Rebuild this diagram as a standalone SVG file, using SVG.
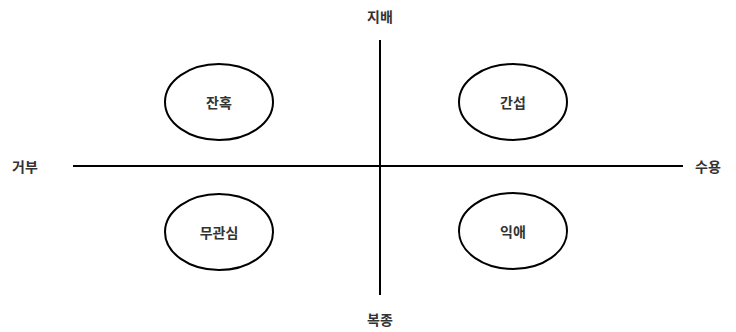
<svg xmlns="http://www.w3.org/2000/svg" width="736" height="332" viewBox="0 0 736 332">
<style>
text{font-family:"Noto Sans CJK KR","Noto Sans",sans-serif;font-size:14px;font-weight:bold;fill:#333;text-anchor:middle;dominant-baseline:central}
.axis{stroke:#000;stroke-width:2;fill:none}
ellipse{fill:#fff;stroke:#000;stroke-width:2}
</style>
<rect width="736" height="332" fill="#fff"/>
<g id="connectors">
<line class="axis" x1="380" y1="40" x2="380" y2="295"/>
<line class="axis" x1="73" y1="166" x2="683" y2="166"/>
</g>
<g id="axis-top"><text x="380" y="16">지배</text></g>
<g id="axis-bottom"><text x="380" y="319">복종</text></g>
<g id="axis-left"><text x="25" y="166">거부</text></g>
<g id="axis-right"><text x="708" y="166">수용</text></g>
<g id="n-janhok"><ellipse cx="219" cy="102" rx="54" ry="38"/><text x="219" y="102">잔혹</text></g>
<g id="n-ganseop"><ellipse cx="513" cy="102" rx="54" ry="38"/><text x="513" y="102">간섭</text></g>
<g id="n-mugwansim"><ellipse cx="219" cy="232" rx="54" ry="38"/><text x="219" y="232">무관심</text></g>
<g id="n-ikae"><ellipse cx="513" cy="231" rx="54" ry="38"/><text x="513" y="231">익애</text></g>
</svg>
